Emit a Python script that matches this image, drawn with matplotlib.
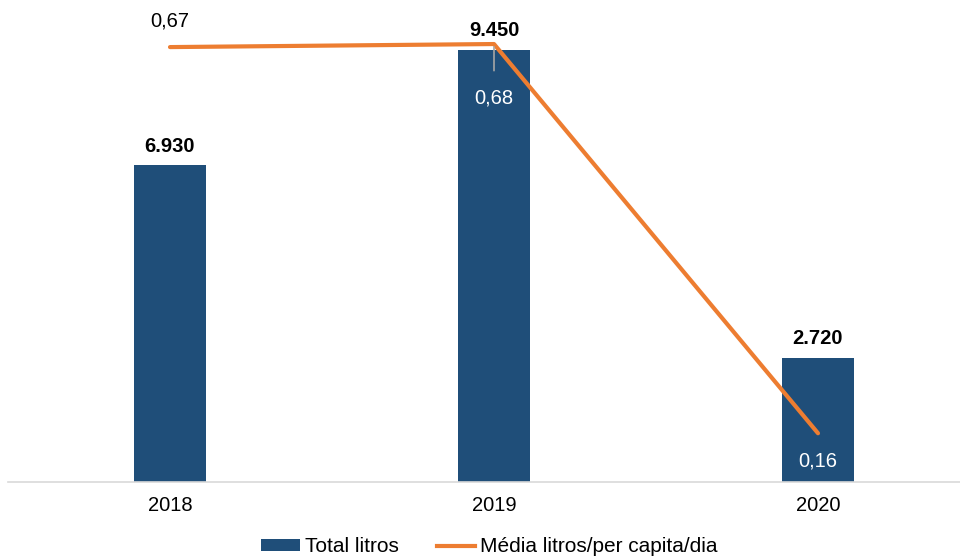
import matplotlib
matplotlib.use("Agg")
import matplotlib.pyplot as plt
from matplotlib.patches import Patch
from matplotlib.lines import Line2D

plt.rcParams['font.family'] = ['Liberation Sans', 'DejaVu Sans']

years = ["2018", "2019", "2020"]
total_litros = [6930, 9450, 2720]
media_litros = [0.671, 0.675, 0.164]
total_labels = ["6.930", "9.450", "2.720"]
media_labels = ["0,67", "0,68", "0,16"]

bar_color = "#1F4E79"
line_color = "#ED7D31"
fs = 14.5

fig = plt.figure(figsize=(9.6, 5.57), dpi=100)
ax = fig.add_axes([8/960, (557-482)/557, 1 - 8/960, 457/557])
x = list(range(len(years)))
ax.bar(x, total_litros, width=0.222, color=bar_color, zorder=2)
ax.set_ylim(0, 10000)
ax.set_xlim(-0.5, -0.5 + 952/324)
ax.set_xticks(x)
ax.set_xticklabels(years, fontsize=fs)
ax.tick_params(axis='x', length=0, pad=10)
ax.set_yticks([])
for s in ['top', 'right', 'left']:
    ax.spines[s].set_visible(False)
ax.spines['bottom'].set_color('#D9D9D9')
ax.spines['bottom'].set_linewidth(1.2)
ax.patch.set_alpha(0)

for xi, v, lab in zip(x, total_litros, total_labels):
    ax.annotate(lab, (xi, v), xytext=(0, 7), textcoords='offset points',
                ha='center', va='bottom', fontsize=fs, fontweight='bold', color='black')

ax2 = ax.twinx()
ax2.set_ylim(0.1, 0.7)
ax2.plot(x, media_litros, color=line_color, lw=3, solid_capstyle='round', zorder=3)
ax2.set_yticks([])
for s in ax2.spines.values():
    s.set_visible(False)

# data labels for the line
ax2.annotate(media_labels[0], (x[0], media_litros[0]), xytext=(0, 12), textcoords='offset points',
             ha='center', va='bottom', fontsize=fs, color='black')
ax2.annotate(media_labels[1], (x[1], media_litros[1]), xytext=(0, -39), textcoords='offset points',
             ha='center', va='center', fontsize=fs, color='white',
             arrowprops=dict(arrowstyle='-', color='#A6A6A6', lw=1.2, shrinkA=11, shrinkB=2))
ax2.annotate(media_labels[2], (x[2], media_litros[2]), xytext=(0, -20), textcoords='offset points',
             ha='center', va='center', fontsize=fs, color='white')

handles = [Patch(facecolor=bar_color, label="Total litros"),
           Line2D([0], [0], color=line_color, lw=3, label="Média litros/per capita/dia")]
fig.legend(handles=handles, loc='center', bbox_to_anchor=(0.51, (557-547)/557), ncol=2,
           frameon=False, fontsize=15, handlelength=1.85, handletextpad=0.25, columnspacing=1.8,
           handleheight=0.55)

fig.savefig("out.png", dpi=100)
